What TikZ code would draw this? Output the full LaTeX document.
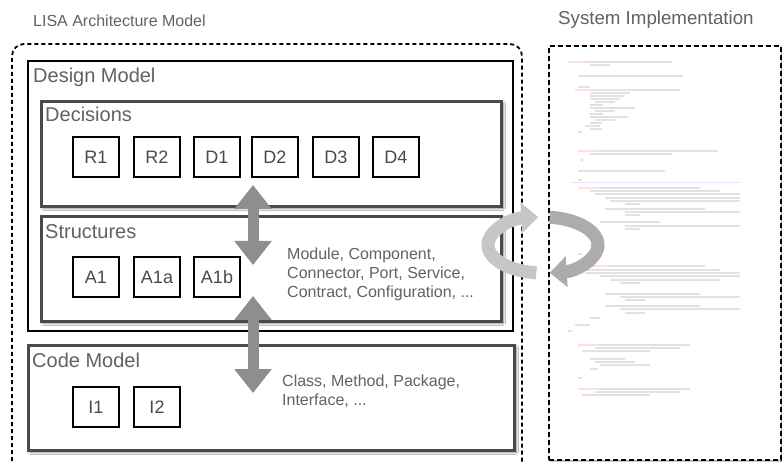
\documentclass[tikz,border=0pt]{standalone}
\usepackage{fontspec}
\setmainfont{Liberation Sans}
\usetikzlibrary{arrows.meta,shadows.blur}
\definecolor{txtgray}{HTML}{626262}
\definecolor{boxgray}{HTML}{4A4A4A}
\definecolor{arrgray}{HTML}{8E8E8E}
\definecolor{codegray}{HTML}{E2E2E2}

\begin{document}
\begin{tikzpicture}[x=1pt,y=-1pt,
  sect/.style={draw=boxgray,line width=2.6pt,fill=white,anchor=north west,inner sep=0pt,
    blur shadow={shadow xshift=2pt,shadow yshift=-2pt,shadow blur steps=6,shadow opacity=45}},
  elem/.style={draw,line width=1.3pt,fill=white,minimum width=46pt,minimum height=40pt,inner sep=0pt,
    text=boxgray,font=\fontsize{18}{20}\selectfont},
  ttl/.style={anchor=base west,inner sep=0pt,text=txtgray,font=\fontsize{20}{24}\selectfont},
  desc/.style={anchor=north west,inner sep=0pt,align=left,text=txtgray,font=\fontsize{16}{19}\selectfont},
  dbl/.style={arrgray,line width=11pt,{Triangle[width=36pt,length=24pt]}-{Triangle[width=36pt,length=24pt]}},
  ring/.style={line width=13pt,-{Triangle[width=30pt,length=17pt]}},
  codeln/.style={codegray,line width=2pt}]
  \clip (0,0) rectangle (782,462);
  \fill[white] (0,0) rectangle (782,462);
  % architecture model
  \node[anchor=base west,inner sep=0pt,text=txtgray,font=\fontsize{16}{19}\selectfont] (lisat) at (33,27) {LISA Architecture Model};
  \draw[line width=1.8pt,dash pattern=on 4pt off 3pt,rounded corners=12pt] (12,475)--(12,44)--(522,44)--(522,475);
  \node[draw,line width=2pt,anchor=north west,minimum width=485pt,minimum height=270pt,inner sep=0pt] (design) at (27,60) {};
  \node[ttl] (designt) at (33,83) {Design Model};
  % decisions
  \node[sect,minimum width=460pt,minimum height=105pt] (dec) at (40,100) {};
  \node[ttl] (dect) at (45,122) {Decisions};
  \foreach \n/\x in {R1/96,R2/157,D1/217,D2/275,D3/336,D4/396}
    \node[elem] (\n) at (\x,157) {\n};
  % structures
  \node[sect,minimum width=460pt,minimum height=105pt] (str) at (40,215) {};
  \node[ttl] (strt) at (45,239) {Structures};
  \foreach \n/\x in {A1/96,A1a/157,A1b/217}
    \node[elem] (\n) at (\x,277) {\n};
  \node[desc] (strd) at (287,247.5) {Module, Component,\\Connector, Port, Service,\\Contract, Configuration, ...};
  % code model
  \node[sect,minimum width=486pt,minimum height=105pt] (code) at (27,344) {};
  \node[ttl] (codet) at (32,367) {Code Model};
  \foreach \n/\x in {I1/96,I2/157}
    \node[elem] (\n) at (\x,407) {\n};
  \node[desc] (coded) at (282,374.5) {Class, Method, Package,\\Interface, ...};
  % links between the models
  \coordinate (up1) at (253,185);
  \coordinate (lo1) at (253,265);
  \coordinate (up2) at (253,296);
  \coordinate (lo2) at (253,393);
  \draw[dbl] (up1)--(lo1);
  \draw[dbl] (up2)--(lo2);
  % system implementation
  \node[anchor=base west,inner sep=0pt,text=txtgray,font=\fontsize{18.7}{22}\selectfont] (implt) at (558,25) {System Implementation};
  \node[draw,line width=2.2pt,dash pattern=on 5pt off 3pt,fill=white,anchor=north west,
    minimum width=232pt,minimum height=414pt,inner sep=0pt,
    blur shadow={shadow xshift=2pt,shadow yshift=-2pt,shadow blur steps=6,shadow opacity=35}] (impl) at (548,45) {};
  \foreach \y/\a/\b in {62/568/672,65/590/610,76/578/683,87/578/590,90/575/680,93/590/630,96/590/625,
    99/590/620,102/595/615,105/590/603,108/590/635,111/595/615,114/590/603,117/590/628,120/595/615,
    123/590/602,126/585/600,129/590/602,132/578/582,151/578/718,154/590/672,160/580/583,171/578/665,
    180/578/582,188/578/700,191/590/720,194/595/740,198/605/740,201/610/740,204/625/640,209/605/705,
    212/625/740,215/625/640,222/600/660,226/625/740,229/625/640,245/590/598,254/578/582,266/590/705,
    270/580/720,273/585/740,276/600/740,280/610/720,283/620/640,294/605/700,297/620/740,300/625/645,
    306/605/700,309/620/740,313/625/645,318/590/600,325/575/590,331/568/572,345/578/690,348/595/680,
    351/582/650,359/590/625,362/595/635,365/600/650,369/590/598,378/578/582,389/578/690,392/595/680,
    395/582/650}
    \draw[codeln] (\a,\y)--(\b,\y);
  \foreach \y/\a/\b in {62/568/585,90/575/592,151/578/598,188/578/598,266/590/610,345/578/598,389/578/598}
    \draw[codeln,red!12] (\a,\y)--(\b,\y);
  \draw[blue!10,line width=1pt] (570,183)--(740,183);
  % round trip
  \coordinate (mid) at (543,245);
  \draw[ring,gray!45] (mid) ++(97:55 and 28) arc[start angle=97,end angle=265,x radius=55,y radius=28];
  \draw[ring,gray!65] (mid) ++(-83:55 and 28) arc[start angle=-83,end angle=83,x radius=55,y radius=28];
\end{tikzpicture}
\end{document}
